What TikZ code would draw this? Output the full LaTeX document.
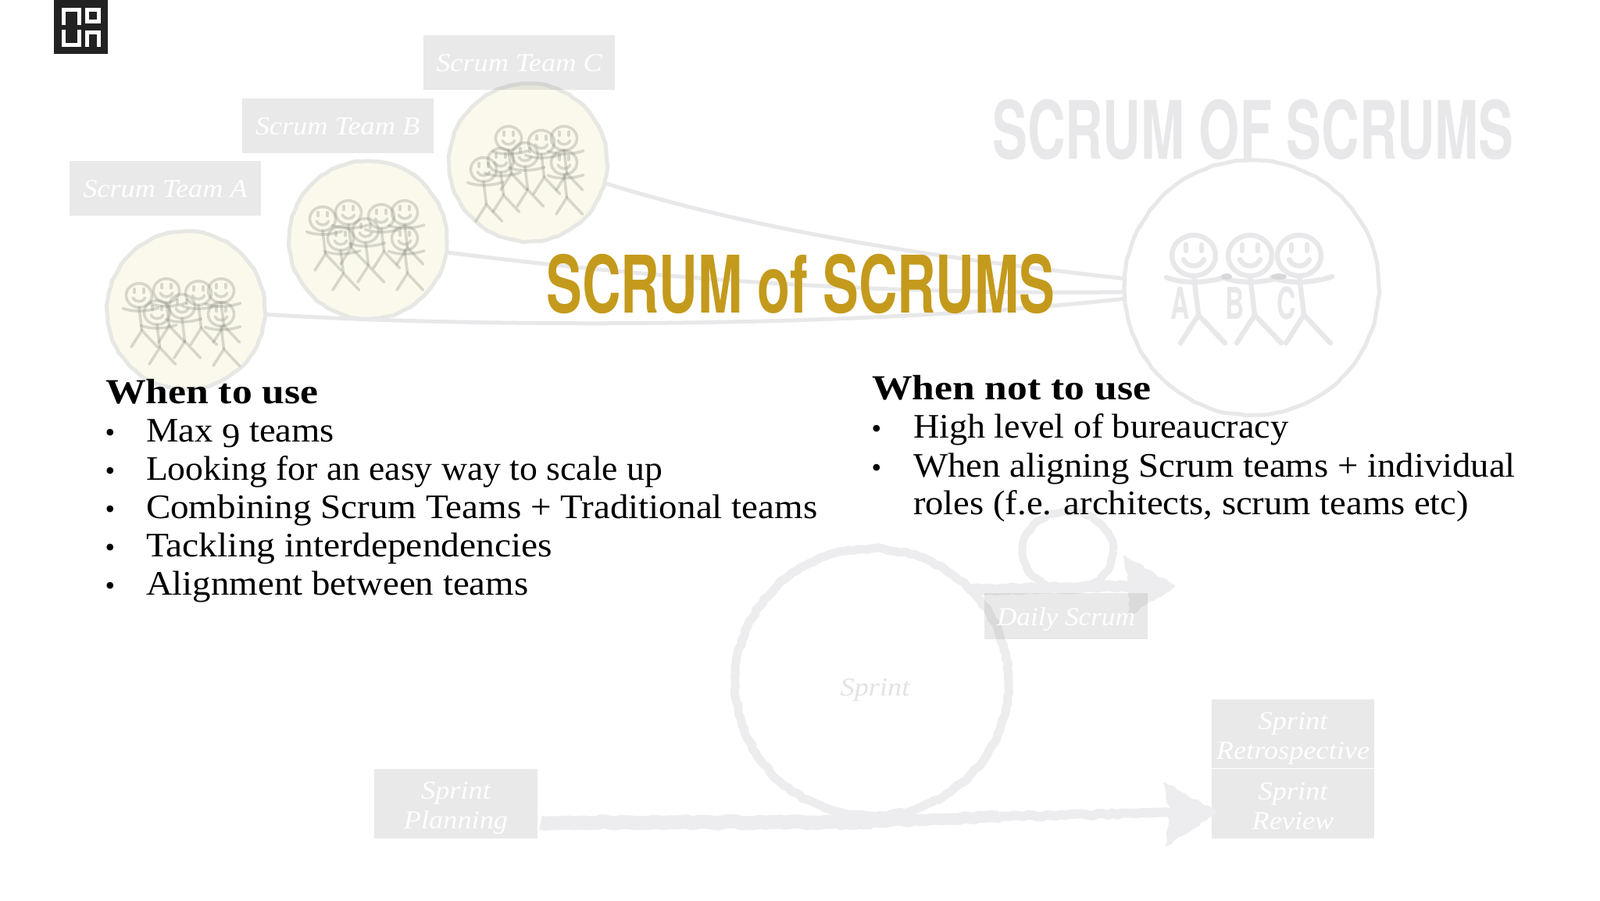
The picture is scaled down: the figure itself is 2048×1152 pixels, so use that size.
\documentclass[tikz,border=0pt]{standalone}
\usepackage{fontspec}
\usepackage{graphicx}
\usetikzlibrary{shapes.geometric,decorations.pathmorphing}
\setmainfont{Liberation Serif}
\newfontfamily\bodyfont[FakeStretch=1.06]{Liberation Serif}
\newfontfamily\lblfont[FakeStretch=1.1]{Liberation Serif}
\newfontfamily\titlefont[FakeStretch=.675]{TeX Gyre Heros}
\newfontfamily\headfont[FakeStretch=.652]{TeX Gyre Heros}
\newfontfamily\abcfont[FakeStretch=.6]{TeX Gyre Heros}
\definecolor{ghost}{HTML}{E8E8EA}
\definecolor{ring}{HTML}{E7E7E4}
\definecolor{chalk}{HTML}{EDEDEF}
\definecolor{cream}{HTML}{FAF9EC}
\definecolor{gold}{HTML}{C49A1C}
\definecolor{ink}{HTML}{222222}
\definecolor{spot}{HTML}{D8D8DA}
\definecolor{pencil}{HTML}{888880}
\tikzset{
  x=.5pt,y=-.5pt,
  stickman/.pic={
    \draw (0,0) ellipse (28 and 26);
    \draw (-10,-14)--(-10,-6) (10,-14)--(10,-6);
    \draw (-13,5) .. controls (-8,16) and (8,16) .. (13,5);
    \draw (0,26)--(6,76);
    \draw (-17,112)--(6,76)--(40,112);
    \draw (-35,28) .. controls (-15,36) and (15,36) .. (42,27);
  },
  teamcircle/.style={circle,draw=ring,fill=cream,line width=2.5pt,minimum size=101pt,inner sep=0pt,outer sep=0pt,
    decorate,decoration={random steps,segment length=4pt,amplitude=.4pt}},
  bigcircle/.style={circle,draw=ghost,line width=2.5pt,minimum size=163pt,inner sep=0pt,outer sep=0pt,
    decorate,decoration={random steps,segment length=5pt,amplitude=.35pt}},
  link/.style={draw=ghost,line width=2.5pt},
  box/.style={rectangle,fill=gray,fill opacity=.173,text opacity=1,text=white,inner sep=0pt,outer sep=0pt,font=\lblfont\itshape\fontsize{16.5}{19}\selectfont,align=center},
  onedrop/.style={execute at begin node={\rule{0pt}{12pt}}},
  twodrop/.style={execute at begin node={\rule{0pt}{16pt}}},
  boxtext/.style={inner sep=0pt,outer sep=0pt,text=white,font=\lblfont\itshape\fontsize{16.5}{19}\selectfont,align=center,yshift=-3pt},
  rough/.style={draw=chalk,line join=round,decorate,decoration={random steps,segment length=3pt,amplitude=.7pt}},
  roughfill/.style={fill=chalk,draw=chalk,line width=1pt,line join=round,decorate,decoration={random steps,segment length=3pt,amplitude=.8pt}},
  small/.style={draw=pencil,draw opacity=.3,line width=1.8pt,scale=.59,line cap=round},
  large/.style={draw=ghost,line width=3.2pt,line cap=round},
  bodyline/.style={anchor=base west,inner sep=0pt,outer sep=0pt,text=black,font=\bodyfont\fontsize{22}{26}\selectfont},
  headline/.style={anchor=base west,inner sep=0pt,outer sep=0pt,text=black,font=\bodyfont\bfseries\fontsize{22.5}{26}\selectfont},
  bulletmark/.style={anchor=base,inner sep=0pt,outer sep=0pt,text=black,font=\fontsize{18}{20}\selectfont},
  abc/.style={text=ghost,inner sep=0pt,font=\abcfont\bfseries\fontsize{28}{28}\selectfont},
}
\begin{document}
\begin{tikzpicture}
\useasboundingbox (0,0) rectangle (2048,1152);
\fill[white] (0,0) rectangle (2048,1152);

% logo
\fill[ink] (69,0) rectangle (138,69);
\draw[white,line width=2.6pt,miter limit=10]
  (81.5,32)--(81.5,12.5)--(101.5,12.5)--(101.5,32)
  (111.5,12.5) rectangle (126.5,27.5)
  (81.5,38)--(81.5,57.5)--(101.5,57.5)--(101.5,38)
  (111.5,60)--(111.5,41.5)--(126.5,41.5)--(126.5,60);

% team circles
\node[teamcircle] (cC) at (676,208) {};
\node[teamcircle] (cB) at (471,307) {};
\node[teamcircle] (cA) at (238,397) {};
\node[bigcircle] (big) at (1602,368) {};

\draw[link] (cC.-15) .. controls (1000,305) and (1250,335) .. (big.176);
\draw[link] (cB.-9) .. controls (800,352) and (1100,378) .. (big.182);
\draw[link] (cA.-3) .. controls (620,420) and (1100,420) .. (big.185);

% team figures
\foreach \p in {(178,378),(213,372),(254,375),(283,372),(201,400),(233,392),(283,402),
                (413,280),(446,272),(488,277),(518,272),(436,305),(468,295),(518,305),
                (619,217),(651,177),(693,182),(722,177),(641,205),(672,198),(722,208)}
  \pic[small] at \p {stickman};

% big figures
\pic[large] at (1528,327) {stickman};
\pic[large] at (1600,327) {stickman};
\pic[large] at (1663,327) {stickman};
\fill[spot] (1570,354) ellipse (7 and 4);
\fill[spot] (1637,354) ellipse (10 and 4);
\node[abc] (la) at (1511,388) {A};
\node[abc] (lb) at (1581,388) {B};
\node[abc] (lc) at (1647,388) {C};

% team labels
\node[box,onedrop,minimum width=122.5pt,minimum height=35pt] (tA) at (211.5,241) {Scrum Team A};
\node[box,onedrop,minimum width=122.5pt,minimum height=35pt] (tB) at (432,160.5) {Scrum Team B};
\node[box,onedrop,minimum width=122.5pt,minimum height=35pt] (tC) at (664.5,80) {Scrum Team C};

% sprint drawing
\node[ellipse,rough,line width=5.5pt,minimum width=175pt,minimum height=171pt,inner sep=0pt,outer sep=0pt] (sprint) at (1116,873) {};
\node[ellipse,rough,line width=5pt,minimum width=58pt,minimum height=50pt,inner sep=0pt,outer sep=0pt] (daily) at (1367,705) {};

\node[box,minimum width=104.5pt,minimum height=44.5pt,label={[boxtext]center:Sprint\\Planning}] (planning) at (583.5,1028.5) {};
\node[box,minimum width=104pt,minimum height=44.5pt,label={[boxtext,yshift=1.6pt]center:Sprint\\Review}] (review) at (1655,1028.5) {};
\node[box,minimum width=104pt,minimum height=44pt,label={[boxtext]center:Sprint\\Retrospective}] (retro) at (1655,939) {};

\coordinate (mid) at (1115,1052);
\coordinate (midb) at (1280,1045);
\coordinate (headbase) at (1498,1040);
\draw[rough,line width=9pt] ([xshift=2pt]planning.-13) -- (mid);
\draw[rough,line width=7.5pt] (mid) -- (midb);
\draw[rough,line width=6pt] (midb) -- (headbase);
\path[roughfill] ([xshift=3.5pt]review.186) -- (1490,1002) -- (headbase) -- (1493,1082) -- cycle;

\coordinate (smalltip) at (1503,750);
\coordinate (smallbase) at (1447,750);
\draw[rough,line width=7pt] (sprint.43) -- (smallbase);
\path[roughfill] (smalltip) -- (1439,712) -- (smallbase) -- (1445,787) -- cycle;

\node[box,twodrop,minimum width=104.5pt,minimum height=29.5pt] (dailybox) at (1364.5,788.5) {\scalebox{.97}[1]{Daily Scrum}};
\node[text=ghost!95!gray,inner sep=0pt,font=\lblfont\itshape\fontsize{16.5}{19}\selectfont] (sprinttext) at (1120,883) {Sprint};

% headings
\node[anchor=base west,inner sep=0pt,text=ghost,font=\headfont\bfseries\fontsize{51.5}{52}\selectfont] (head) at (1270,203) {SCRUM OF SCRUMS};
\node[anchor=base west,inner sep=0pt,text=gold,font=\titlefont\bfseries\fontsize{50.8}{52}\selectfont] (title) at (699,400) {SCRUM of SCRUMS};

% left text
\node[headline] (lh) at (135,516) {\scalebox{1.083}[1]{When to use}};
\foreach \n/\yy/\sc/\t in {l1/565/1/{Max \raisebox{-.18em}{9} teams},l2/614/.98/{Looking for an easy way to scale up},l3/663/1.009/{Combining Scrum Teams + Traditional teams},l4/712/1.018/{Tackling interdependencies},l5/761/1.005/{Alignment between teams}}{
  \node[bodyline] (\n) at (187,\yy) {\scalebox{\sc}[1]{\t}};
  \node[bulletmark] (b\n) at (141,\yy) {•};
}
% right text
\node[headline] (rh) at (1116,511) {\scalebox{1.083}[1]{When not to use}};
\node[bodyline] (r1) at (1169,560) {\scalebox{.989}[1]{High level of bureaucracy}};
\node[bulletmark] (br1) at (1122,560) {•};
\node[bodyline] (r2) at (1169,610) {\scalebox{1.003}[1]{When aligning Scrum teams + individual}};
\node[bulletmark] (br2) at (1122,610) {•};
\node[bodyline] (r3) at (1169,658) {roles (f.e. architects, scrum teams etc)};
\end{tikzpicture}
\end{document}
